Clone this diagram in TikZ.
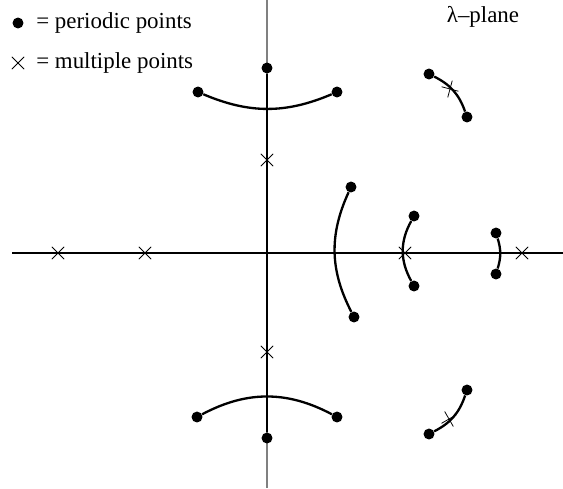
\documentclass[tikz,border=0pt]{standalone}
\usepackage{fontspec}
\setmainfont{Liberation Serif}
\usetikzlibrary{shapes.misc}
\tikzset{
  pdot/.style={circle,fill,inner sep=0pt,minimum size=7.8pt},
  mcross/.style={cross out,draw,inner sep=0pt,minimum size=8.2pt,line width=0.55pt},
  axisline/.style={line width=2pt},
  axisgray/.style={gray,line width=0.8pt},
  branch/.style={line width=1.65pt},
  lbl/.style={anchor=base west,inner sep=0pt,font=\fontsize{16.3}{19}\selectfont}
}
\begin{document}
\begin{tikzpicture}[x=0.025cm,y=-0.025cm]
  \useasboundingbox (0,0) rectangle (563,488);
  % axes
  \coordinate (itop) at (267,0);
  \coordinate (ibot) at (267,488);
  \coordinate (rleft) at (12,253);
  \coordinate (rright) at (563,253);
  \draw[axisgray] (itop) -- (ibot);
  \draw[axisline] (rleft) -- (rright);
  % periodic points
  \foreach \n/\x/\y in {ia/267/68, ib/267/438,
      ta/198/92, tb/337/92, ba/197/417, bb/337/417,
      ua/429/74, ub/467/117, la/429/434, lb/467/390,
      pa/351/187, pb/354/317, qa/414/216, qb/414/286,
      sa/496/233, sb/496/274}
    \node[pdot] (\n) at (\x,\y) {};
  % multiple points
  \foreach \n/\x/\y/\r in {ma/58/253/0, mb/145/253/0, mc/522/253/0,
      md/405/253/0, me/267/160/0, mf/267/352/0,
      mg/450/89/30, mh/449/419/-15}
    \node[mcross,rotate=\r] (\n) at (\x,\y) {};
  % branches
  \draw[axisline] (ia) -- (ib);
  \draw[branch] (ta) to[bend right=23] (tb);
  \draw[branch] (ba) to[bend left=28] (bb);
  \draw[branch] (ua) to[bend left=22] (ub);
  \draw[branch] (la) to[bend right=22] (lb);
  \draw[branch] (pa) to[bend right=26] (pb);
  \draw[branch] (qa) to[bend right=29] (qb);
  \draw[branch] (sa) to[bend left=17] (sb);
  % key
  \node[pdot] (kdot) at (18,23) {};
  \node[lbl] (kper) at (36,28) {= periodic points};
  \node[mcross] (kcross) at (18,63) {};
  \node[lbl] (kmul) at (36,68) {= multiple points};
  \node[lbl,anchor=base] (plane) at (483,22) {λ–plane};
\end{tikzpicture}
\end{document}
